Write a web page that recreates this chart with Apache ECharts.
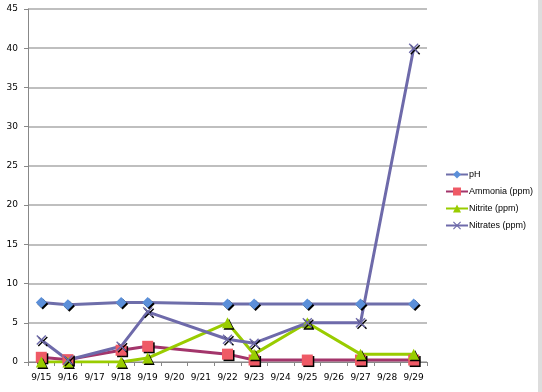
<!DOCTYPE html>
<html><head><meta charset="utf-8">
<script src="https://cdn.jsdelivr.net/npm/echarts@6/dist/echarts.min.js"></script>
<style>html,body{margin:0;padding:0;background:#fff}#c{width:542px;height:392px}</style>
</head><body><div id="c"></div>
<script>
var categories = ['9/15','9/16','9/17','9/18','9/19','9/20','9/21','9/22','9/23','9/24','9/25','9/26','9/27','9/28','9/29'];
var pH       = [7.6, 7.3, null, 7.6, 7.6, null, null, 7.4, 7.4, null, 7.4, null, 7.4, null, 7.4];
var ammonia  = [0.6, 0.3, null, 1.5, 2, null, null, 1, 0.25, null, 0.25, null, 0.25, null, 0.25];
var nitrite  = [0, 0, null, 0, 0.5, null, null, 5, 1, null, 5, null, 1, null, 1];
var nitrates = [2.8, 0.25, null, 2, 6.4, null, null, 2.9, 2.4, null, 5, null, 5, null, 40];
var yTicks = [0,5,10,15,20,25,30,35,40,45];

var xPath = 'path://M0,1L1,0L5,4L9,0L10,1L6,5L10,9L9,10L5,6L1,10L0,9L4,5Z';
var shadow = {shadowColor:'#000', shadowBlur:0, shadowOffsetX:1.5, shadowOffsetY:1.5};
function mk(name, data, lineColor, markColor, symbol, size){
  return {name:name, type:'line', data:data, connectNulls:true, symbol:symbol, symbolSize:size,
    lineStyle:{color:lineColor, width:3},
    itemStyle:Object.assign({color:markColor, borderColor:markColor, borderWidth:0}, shadow),
    emphasis:{disabled:true}, animation:false};
}
var chart = echarts.init(document.getElementById('c'));
chart.setOption({
  animation:false,
  grid:{left:28, right:115, top:9, bottom:30},
  legend:{orient:'vertical', left:440, top:165, itemGap:8, itemWidth:22, itemHeight:10,
    textStyle:{fontSize:9, color:'#000', fontFamily:'Liberation Sans', padding:[0,0,0,-4]},
    data:['pH','Ammonia (ppm)','Nitrite (ppm)','Nitrates (ppm)']},
  xAxis:{type:'category', data:categories, boundaryGap:true,
    axisLine:{lineStyle:{color:'#888', width:1}},
    axisTick:{show:true, length:4, lineStyle:{color:'#888'}},
    axisLabel:{fontSize:9, color:'#000', margin:11, interval:0, fontFamily:'DejaVu Sans'}},
  yAxis:{type:'value', min:0, max:45, interval:5,
    axisLine:{show:true, lineStyle:{color:'#888', width:1}},
    axisTick:{show:true, length:4, lineStyle:{color:'#888'}},
    axisLabel:{fontSize:9, color:'#000', margin:10, fontFamily:'DejaVu Sans'},
    splitLine:{lineStyle:{color:'#aaa', width:1.5}}},
  graphic:[{type:'rect', shape:{x:538, y:0, width:4, height:392}, style:{fill:'#ddd'}}],
  series:[
    mk('pH', pH, '#6e6eaa', '#5b8fd9', 'diamond', 11),
    mk('Ammonia (ppm)', ammonia, '#a3356b', '#ef5a66', 'rect', 11),
    mk('Nitrite (ppm)', nitrite, '#99cc00', '#99cc00', 'triangle', 11),
    mk('Nitrates (ppm)', nitrates, '#6e6aaa', '#6e6aaa', xPath, 10)
  ]
});
</script></body></html>
